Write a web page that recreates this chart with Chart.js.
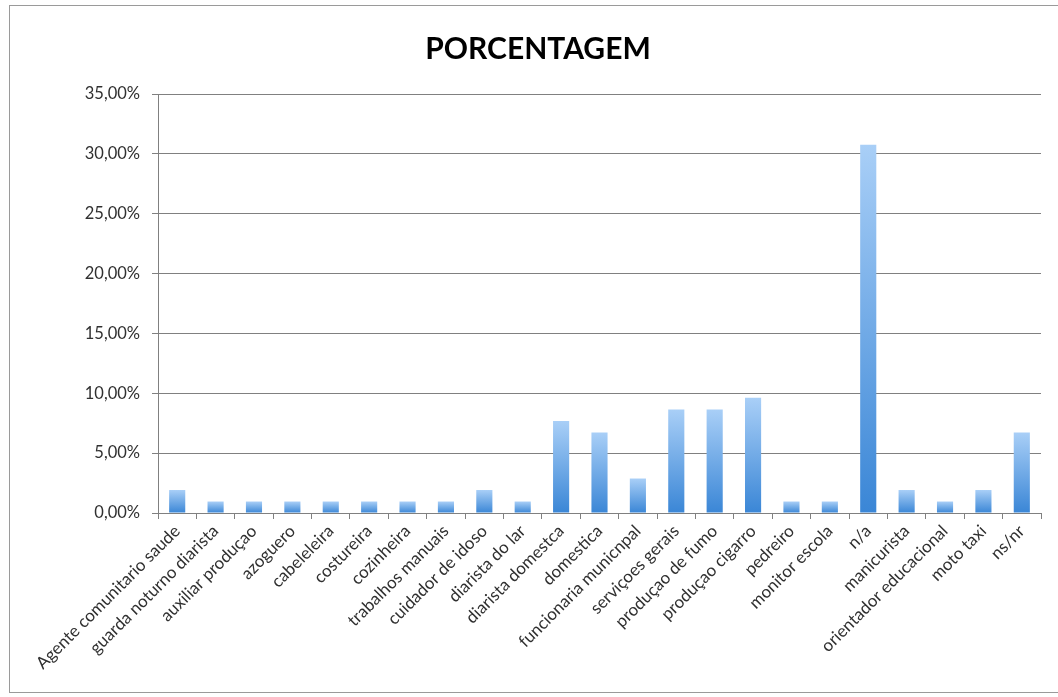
<!DOCTYPE html>
<html>
<head>
<meta charset="utf-8">
<script src="https://cdn.jsdelivr.net/npm/chart.js@4/dist/chart.umd.min.js"></script>
<style>
  html, body { margin: 0; padding: 0; background: #fff; }
  #wrap { position: relative; width: 1058px; height: 697px; }
  #frame { position: absolute; left: 9px; top: 5px; width: 1060px; height: 688px; border: 1px solid #9a9a9a; box-sizing: border-box; pointer-events: none; }
  canvas { position: absolute; left: 0; top: 0; }
</style>
</head>
<body>
<div id="wrap">
  <canvas id="c" width="1058" height="697"></canvas>
  <div id="frame"></div>
</div>
<script>
const categories = [
  "Agente comunitario saude", "guarda noturno diarista", "auxiliar produçao", "azoguero",
  "cabeleleira", "costureira", "cozinheira", "trabalhos manuais", "cuidador de idoso",
  "diarista do lar", "diarista domestca", "domestica", "funcionaria municnpal",
  "serviçoes gerais", "produçao de fumo", "produçao cigarro", "pedreiro", "monitor escola",
  "n/a", "manicurista", "orientador educacional", "moto taxi", "ns/nr"
];
const porcentagem = [
  1.92, 0.96, 0.96, 0.96,
  0.96, 0.96, 0.96, 0.96, 1.92,
  0.96, 7.69, 6.73, 2.88,
  8.65, 8.65, 9.62, 0.96, 0.96,
  30.77, 1.92, 0.96, 1.92, 6.73
];
const yTicks = [0, 5, 10, 15, 20, 25, 30, 35];
const titleText = "PORCENTAGEM";

const FONT = "Lato, 'Open Sans', sans-serif";

function barFill(ctx) {
  const chart = ctx.chart;
  const area = chart.chartArea;
  if (!area || ctx.parsed === undefined) return '#5a9be0';
  const y = chart.scales.y;
  const top = y.getPixelForValue(ctx.parsed.y);
  const bottom = y.getPixelForValue(0);
  if (!isFinite(top) || !isFinite(bottom) || top === bottom) return '#5a9be0';
  const g = chart.ctx.createLinearGradient(0, top, 0, bottom);
  g.addColorStop(0, '#a9cff7');
  g.addColorStop(1, '#3a86d6');
  return g;
}

new Chart(document.getElementById('c'), {
  type: 'bar',
  data: {
    labels: categories,
    datasets: [{
      label: titleText,
      data: porcentagem,
      backgroundColor: barFill,
      borderWidth: 0,
      categoryPercentage: 1,
      barPercentage: 0.42
    }]
  },
  options: {
    responsive: false,
    animation: false,
    devicePixelRatio: 1,
    layout: { padding: { left: 35, right: 17, top: 0, bottom: 0 } },
    plugins: {
      legend: { display: false },
      tooltip: { enabled: false },
      title: {
        display: true,
        text: titleText,
        color: '#000',
        font: { family: FONT, size: 30, weight: 'bold' },
        padding: { top: 31, bottom: 27 }
      }
    },
    scales: {
      x: {
        offset: true,
        grid: { display: true, offset: true, drawOnChartArea: false, drawTicks: true, tickLength: 6, color: '#808080' },
        border: { display: true, color: '#808080', width: 1 },
        ticks: {
          color: '#303030',
          font: { family: FONT, size: 17 },
          minRotation: 45,
          maxRotation: 45,
          autoSkip: false,
          padding: 2
        },
        afterFit(s) { s.height = 184; }
      },
      y: {
        min: 0,
        max: 35,
        afterBuildTicks(s) { s.ticks = yTicks.map(v => ({ value: v })); },
        grid: { color: '#808080', tickLength: 6, drawTicks: true },
        border: { display: true, color: '#808080', width: 1 },
        ticks: {
          color: '#303030',
          font: { family: FONT, size: 16.5 },
          padding: 12,
          callback: v => v.toFixed(2).replace('.', ',') + '%'
        },
        afterFit(s) { s.width = 123; }
      }
    }
  }
});
</script>
</body>
</html>
